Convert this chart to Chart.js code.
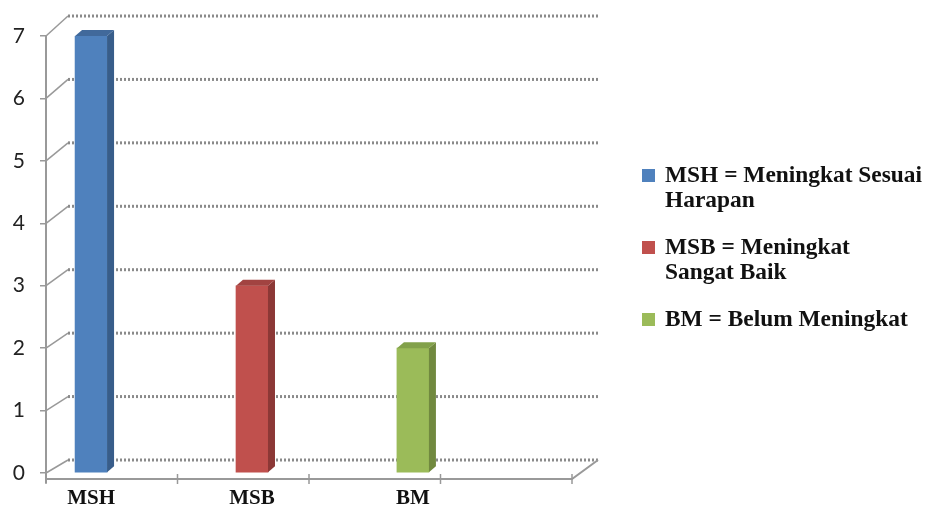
<!DOCTYPE html>
<html>
<head>
<meta charset="utf-8">
<script src="https://cdn.jsdelivr.net/npm/chart.js@4"></script>
<style>
  body { margin: 0; background: #fff; }
  #wrap { position: relative; width: 927px; height: 507px; }
  #legend { position: absolute; left: 642px; top: 162px; font-family: "Liberation Serif", serif; font-weight: bold; font-size: 23.4px; line-height: 25px; color: #111; }
  .item { display: flex; align-items: flex-start; margin-bottom: 22px; }
  .box { width: 13px; height: 13px; margin-top: 7px; margin-right: 10px; flex: none; }
</style>
</head>
<body>
<div id="wrap">
  <canvas id="chart" width="927" height="507"></canvas>
  <div id="legend"></div>
</div>
<script>
const categories = ['MSH', 'MSB', 'BM'];
const values = [7, 3, 2];
const yTicks = [0, 1, 2, 3, 4, 5, 6, 7];
const legendLines = [
    ['MSH = Meningkat Sesuai', 'Harapan'],
    ['MSB = Meningkat', 'Sangat Baik'],
    ['BM = Belum Meningkat']
];
const frontColors = ['#4F81BD', '#C0504D', '#9BBB59'];
const sideColors = ['#385D8A', '#8C3836', '#71893F'];
const topColors = ['#41699B', '#A24341', '#82A14A'];

// back wall gridlines + floor, drawn before the bars
const wallPlugin = {
    id: 'wall',
    beforeDatasetsDraw(chart) {
        const ctx = chart.ctx;
        const area = chart.chartArea;
        const y = chart.scales.y;
        const depthX = 22;
        ctx.save();
        yTicks.forEach(v => {
            const py = y.getPixelForValue(v);
            const back = py - (13 + v);
            ctx.setLineDash([]);
            ctx.strokeStyle = '#999';
            ctx.lineWidth = 1.5;
            ctx.beginPath();
            ctx.moveTo(area.left, py);
            ctx.lineTo(area.left + depthX, back);
            ctx.stroke();
            ctx.setLineDash([2, 2]);
            ctx.lineWidth = 3;
            ctx.strokeStyle = '#8a8a8a';
            ctx.beginPath();
            ctx.moveTo(area.left + depthX, back);
            ctx.lineTo(area.right, back);
            ctx.stroke();
        });
        // floor front edge
        const floorY = area.bottom + 6;
        const frontRight = area.right - 26;
        ctx.setLineDash([]);
        ctx.strokeStyle = '#999';
        ctx.lineWidth = 2;
        ctx.beginPath();
        ctx.moveTo(area.left, area.bottom);
        ctx.lineTo(area.left, floorY + 4);
        ctx.moveTo(area.left, floorY);
        ctx.lineTo(frontRight, floorY);
        ctx.lineTo(area.right, y.getPixelForValue(0) - 13);
        ctx.stroke();
        ctx.lineWidth = 1.5;
        for (let k = 0; k <= 4; k++) {
            const px = area.left + k * (frontRight - area.left) / 4;
            ctx.beginPath();
            ctx.moveTo(px, floorY - 5);
            ctx.lineTo(px, floorY + 5);
            ctx.stroke();
        }
        ctx.restore();
    },
    afterDatasetsDraw(chart) {
        // side and top faces of each bar
        const ctx = chart.ctx;
        const dx = 7, dy = 6;
        ctx.save();
        chart.getDatasetMeta(0).data.forEach((bar, i) => {
            const half = bar.width / 2;
            const r = bar.x + half, l = bar.x - half;
            ctx.fillStyle = sideColors[i];
            ctx.beginPath();
            ctx.moveTo(r, bar.y);
            ctx.lineTo(r + dx, bar.y - dy);
            ctx.lineTo(r + dx, bar.base - dy);
            ctx.lineTo(r, bar.base);
            ctx.closePath();
            ctx.fill();
            ctx.fillStyle = topColors[i];
            ctx.beginPath();
            ctx.moveTo(l, bar.y);
            ctx.lineTo(l + dx, bar.y - dy);
            ctx.lineTo(r + dx, bar.y - dy);
            ctx.lineTo(r, bar.y);
            ctx.closePath();
            ctx.fill();
        });
        ctx.restore();
    }
};

const ctx = document.getElementById('chart').getContext('2d');
new Chart(ctx, {
    type: 'bar',
    data: {
        datasets: [{
            data: values.map((v, i) => ({ x: i + 1, y: v })),
            backgroundColor: frontColors,
            borderWidth: 0,
            barThickness: 32
        }]
    },
    options: {
        responsive: false,
        animation: false,
        layout: { padding: { top: 36, right: 329, left: 0, bottom: 0 } },
        plugins: {
            legend: { display: false },
            tooltip: { enabled: false }
        },
        scales: {
            x: {
                type: 'linear',
                offset: false,
                min: 0.72,
                max: 4.15,
                afterBuildTicks: s => { s.ticks = categories.map((c, i) => ({ value: i + 1 })); },
                afterFit: s => { s.height = 34; },
                ticks: {
                    callback: v => categories[v - 1],
                    font: { family: 'Liberation Serif', weight: 'bold', size: 21 },
                    color: '#111',
                    padding: 13,
                    maxRotation: 0
                },
                grid: { display: false, drawTicks: false },
                border: { display: false }
            },
            y: {
                min: 0,
                max: 7,
                afterBuildTicks: s => { s.ticks = yTicks.map(v => ({ value: v })); },
                afterFit: s => { s.width = 46; },
                ticks: {
                    font: { family: 'Lato', size: 21 },
                    color: '#222',
                    padding: 15
                },
                grid: { drawOnChartArea: false, tickLength: 6, color: '#999', lineWidth: 1.5 },
                border: { color: '#999', width: 2 }
            }
        }
    },
    plugins: [wallPlugin]
});

const legend = document.getElementById('legend');
legendLines.forEach((lines, i) => {
    const item = document.createElement('div');
    item.className = 'item';
    item.innerHTML = `<div class="box" style="background:${frontColors[i]}"></div><div>${lines.join('<br>')}</div>`;
    legend.appendChild(item);
});
</script>
</body>
</html>
